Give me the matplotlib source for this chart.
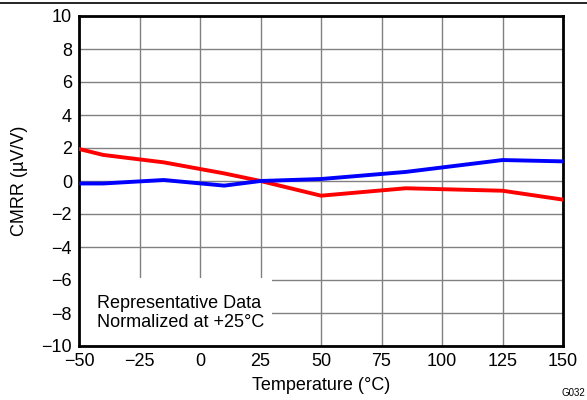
import matplotlib
matplotlib.use('Agg')
import matplotlib.pyplot as plt
from matplotlib.lines import Line2D
from matplotlib.patches import Rectangle

plt.rcParams['font.family'] = ['Liberation Sans', 'DejaVu Sans']

temp = [-50, -40, -15, 10, 25, 50, 85, 125, 150]
cmrr_blue = [-0.15, -0.15, 0.06, -0.28, 0.0, 0.12, 0.55, 1.27, 1.19]
cmrr_red = [1.94, 1.58, 1.13, 0.46, 0.0, -0.89, -0.44, -0.59, -1.13]
xticks = [-50, -25, 0, 25, 50, 75, 100, 125, 150]
yticks = list(range(-10, 11, 2))

fig = plt.figure(figsize=(5.87, 4.0), dpi=100)
ax = fig.add_axes([79/587, 1-346/400, (563-79)/587, (346-16)/400])

ax.plot(temp, cmrr_red, color='#ff0000', lw=2.8, zorder=3, solid_joinstyle='round')
ax.plot(temp, cmrr_blue, color='#0000ff', lw=2.8, zorder=3, solid_joinstyle='round')

ax.set_xlim(-50, 150)
ax.set_ylim(-10, 10)
ax.set_xticks(xticks)
ax.set_yticks(yticks)
ax.grid(True, color='#808080', lw=1.0)
ax.set_axisbelow(True)
ax.tick_params(length=0, labelsize=13, pad=5)
for s in ax.spines.values():
    s.set_linewidth(2.0)
    s.set_color('black')

ax.set_xlabel('Temperature (°C)', fontsize=13, labelpad=5)
ax.set_ylabel('CMRR (µV/V)', fontsize=13, labelpad=10)

# white box behind annotation
ax.add_patch(Rectangle((-50, -10), 79.8, 4.1, facecolor='white', edgecolor='none', zorder=2))
ax.text(-42.6, -8.0, 'Representative Data\nNormalized at +25°C', fontsize=13,
        va='center', ha='left', linespacing=1.2, zorder=4)

fig.add_artist(Line2D([0, 1], [1-3/400, 1-3/400], color='black', lw=1.2))
fig.text(562/587, 1-393/400, 'G032', fontsize=7, ha='left', va='center')

fig.savefig('out.png', dpi=100)
